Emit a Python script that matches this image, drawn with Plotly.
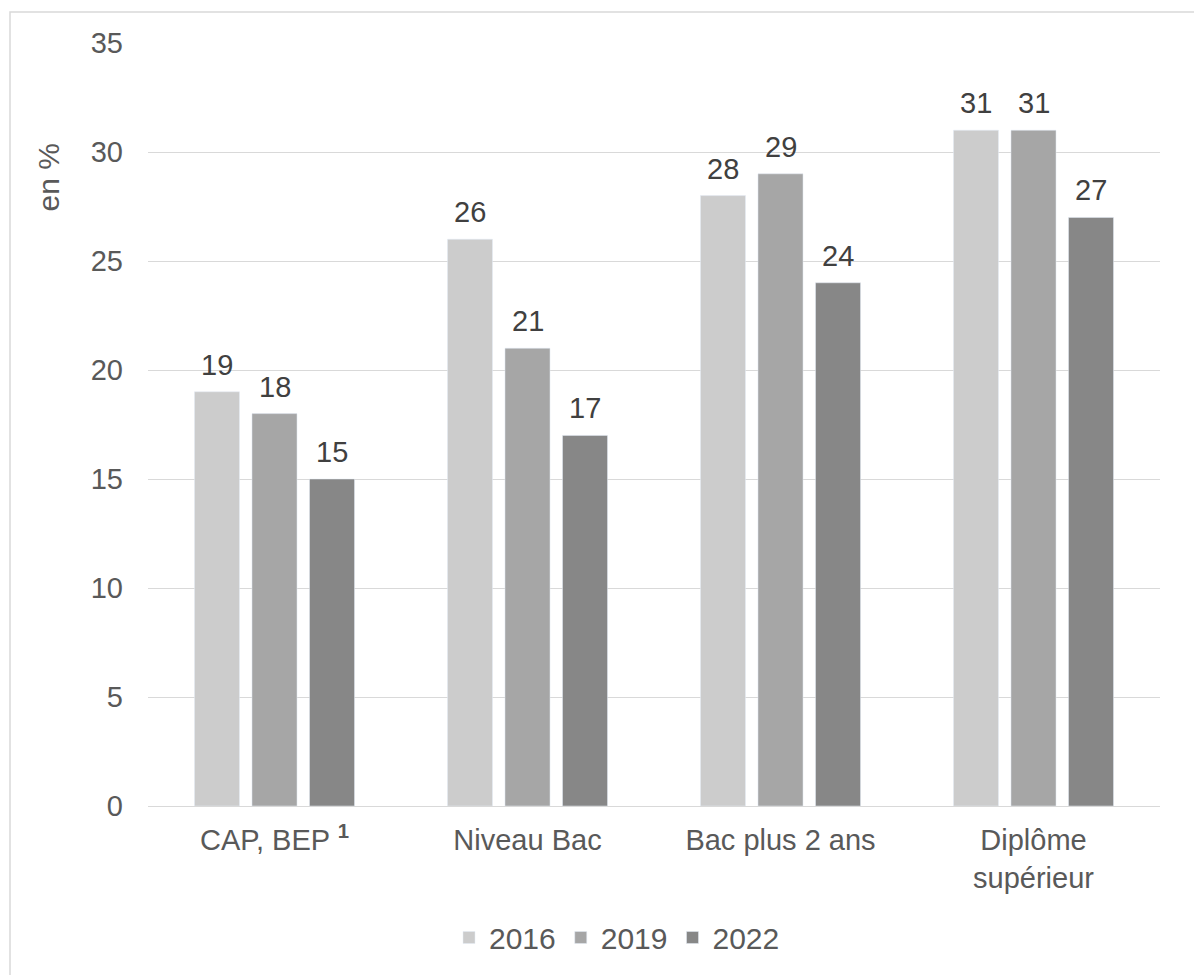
import plotly.graph_objects as go

categories = ["CAP, BEP <sup><b>1</b></sup>", "Niveau Bac", "Bac plus 2 ans", "Diplôme<br>supérieur"]
years = ["2016", "2019", "2022"]
values_2016 = [19, 26, 28, 31]
values_2019 = [18, 21, 29, 31]
values_2022 = [15, 17, 24, 27]
colors = ["#CCCCCC", "#A6A6A6", "#878787"]

series = [values_2016, values_2019, values_2022]
FONT = "Liberation Sans, Arial, sans-serif"
FS = 29
OFF = 8  # browser body margin

BARGAP = 0.318
BARGROUPGAP = 0.217

fig = go.Figure()
for name, vals, col in zip(years, series, colors):
    fig.add_trace(go.Bar(x=categories, y=vals, name=name, marker_color=col))

W, H = 1202 - OFF, 975 - OFF
# plot area in absolute window pixels: x 148..1160, y 43..809
ml = 148 - OFF
mr = W - (1160 - OFF)
mt = 43 - OFF
mb = H - (809 - OFF)
fig.update_layout(
    width=W, height=H,
    margin=dict(l=ml, r=mr, t=mt, b=mb),
    paper_bgcolor="white", plot_bgcolor="white",
    barmode="group", bargap=BARGAP, bargroupgap=BARGROUPGAP,
    font=dict(family=FONT, size=FS, color="#595959"),
    showlegend=True,
)

pw, ph = W - ml - mr, H - mt - mb
def px_x(x):
    return (x - OFF - ml) / pw
def px_y(y):
    return (H - mb - (y - OFF)) / ph

# value labels above each bar, offset within group
cat_w = pw / len(categories)
slot = cat_w * (1 - BARGAP) / len(series)
for i, vals in enumerate(series):
    shift = (i - (len(series) - 1) / 2) * slot
    for cat, v in zip(categories, vals):
        fig.add_annotation(x=cat, y=v, xref="x", yref="y", text=str(v),
                           showarrow=False, xanchor="center", yanchor="bottom",
                           xshift=shift, yshift=9,
                           font=dict(family=FONT, size=FS, color="#404040"))

fig.update_layout(legend=dict(orientation="h", x=px_x(617), xanchor="center",
                              y=px_y(941), yanchor="middle",
                              font=dict(size=30, color="#595959"), itemwidth=30,
                              tracegroupgap=0))
fig.update_yaxes(range=[0, 35], dtick=5, showgrid=True, gridcolor="#D9D9D9", gridwidth=1,
                 zeroline=False, showline=False, ticks="", ticklabelstandoff=24,
                 tickfont=dict(size=FS, color="#595959"))
fig.update_xaxes(showline=True, linecolor="#D9D9D9", linewidth=1, ticks="",
                 ticklabelstandoff=8, tickfont=dict(size=FS, color="#595959"))

fig.add_annotation(text="en %", textangle=-90, xref="paper", yref="paper",
                   x=px_x(48), y=px_y(178), xanchor="center", yanchor="middle",
                   showarrow=False, font=dict(size=30, color="#595959"))
fig.add_shape(type="rect", xref="paper", yref="paper",
              x0=px_x(10), x1=px_x(1230), y0=px_y(12), y1=px_y(1000),
              line=dict(color="#D9D9D9", width=1.5), fillcolor="rgba(0,0,0,0)", layer="below")

fig.write_html("out.html")
